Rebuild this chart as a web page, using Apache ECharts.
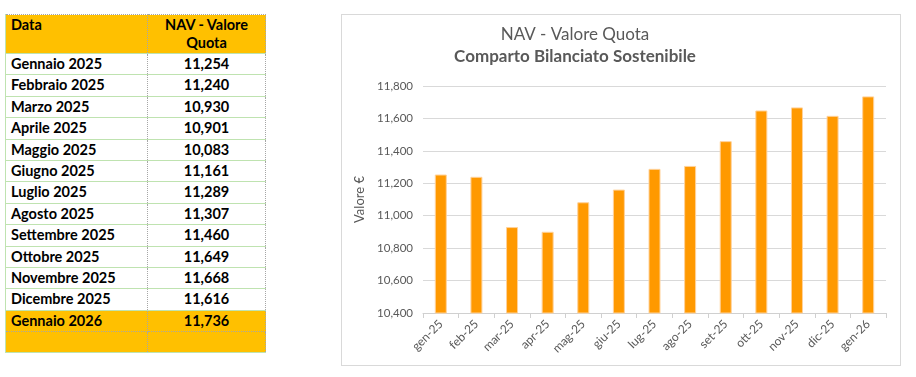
<!DOCTYPE html>
<html>
<head>
<meta charset="utf-8">
<title>NAV - Valore Quota</title>
<script src="https://cdn.jsdelivr.net/npm/echarts@6/dist/echarts.min.js"></script>
<style>
  body { margin: 0; background: #fff; width: 916px; height: 377px; position: relative; overflow: hidden; }
  #navTable {
    position: absolute; left: 5px; top: 14px; width: 260px;
    border-collapse: collapse; table-layout: fixed;
    font-family: Lato, "Liberation Sans", sans-serif; font-weight: bold; font-size: 14.5px; color: #000;
  }
  #navTable td { padding: 0; height: 20.4px; border-top: 1px solid #bfe3b0; border-bottom: 1px solid #bfe3b0; line-height: 19px; vertical-align: top; }
  #navTable td.c1 { padding-left: 5px; border-left: 1px solid #bfe3b0; border-right: 1px dotted #a6a6a6; }
  #navTable td.c2 { text-align: center; border-right: 1px dotted #a6a6a6; }
  #navTable tr.head td { background: #FFC000; height: 37px; line-height: 18px; padding-top: 1px; border-top: 1px dotted #a6a6a6; }
  #navTable tr.hl td { background: #FFC000; }
  #navTable tr.hl td { border-bottom: 1px dotted #a6a6a6; }
  #navTable tr.empty td { background: #FFC000; border-top: 1px dotted #a6a6a6; }
  #chartBox { position: absolute; left: 341px; top: 14px; width: 560px; height: 352px; box-sizing: border-box; border: 1px solid #d9d9d9; }
  #chart { width: 558px; height: 350px; }
</style>
</head>
<body>
<table id="navTable"><colgroup><col style="width:142px"><col style="width:118px"></colgroup><tbody></tbody></table>
<div id="chartBox"><div id="chart"></div></div>
<script>
// tabella a sinistra
var tableMonths = ['Gennaio 2025', 'Febbraio 2025', 'Marzo 2025', 'Aprile 2025', 'Maggio 2025', 'Giugno 2025',
    'Luglio 2025', 'Agosto 2025', 'Settembre 2025', 'Ottobre 2025', 'Novembre 2025', 'Dicembre 2025', 'Gennaio 2026'];
var tableNav = ['11,254', '11,240', '10,930', '10,901', '10,083', '11,161',
    '11,289', '11,307', '11,460', '11,649', '11,668', '11,616', '11,736'];

// grafico
var categories = ['gen-25', 'feb-25', 'mar-25', 'apr-25', 'mag-25', 'giu-25', 'lug-25',
    'ago-25', 'set-25', 'ott-25', 'nov-25', 'dic-25', 'gen-26'];
var navValues = [11254, 11240, 10930, 10901, 11083, 11161, 11289, 11307, 11460, 11649, 11668, 11616, 11736];
var yMin = 10400, yMax = 11800, yStep = 200;

function buildTable() {
    var html = '<tr class="head"><td class="c1">Data</td><td class="c2">NAV - Valore<br>Quota</td></tr>';
    tableMonths.forEach(function (m, i) {
        var cls = (i == tableMonths.length - 1) ? ' class="hl"' : '';
        html += '<tr' + cls + '><td class="c1">' + m + '</td><td class="c2">' + tableNav[i] + '</td></tr>';
    });
    html += '<tr class="empty"><td class="c1"></td><td class="c2"></td></tr>';
    document.querySelector('#navTable tbody').innerHTML = html;
}

function initChart() {
    var myChart = echarts.init(document.getElementById('chart'));
    var grey = '#595959';
    var font = 'Lato, "Open Sans", sans-serif';
    var option = {
        animation: false,
        title: [
            {
                text: 'NAV - Valore Quota',
                left: 228, top: 6, textAlign: 'center',
                textStyle: {fontSize: 17, fontWeight: 'normal', color: grey, fontFamily: font}
            },
            {
                text: 'Comparto Bilanciato Sostenibile',
                left: 228, top: 28, textAlign: 'center',
                textStyle: {fontSize: 17, fontWeight: 'bold', color: grey, fontFamily: font}
            }
        ],
        grid: {left: 81, right: 14, top: 71, bottom: 52, containLabel: false},
        xAxis: {
            type: 'category',
            data: categories,
            boundaryGap: true,
            axisLine: {lineStyle: {color: '#d0d0d0'}},
            axisTick: {show: true, length: 5, lineStyle: {color: '#d0d0d0'}},
            axisLabel: {rotate: 45, color: grey, fontSize: 12, fontFamily: font, margin: 9, interval: 0}
        },
        yAxis: {
            type: 'value',
            min: yMin, max: yMax, interval: yStep,
            name: 'Valore €',
            nameLocation: 'middle',
            nameGap: 48,
            nameTextStyle: {color: grey, fontSize: 13, fontFamily: font},
            axisLine: {show: false},
            axisTick: {show: false},
            axisLabel: {
                color: grey, fontSize: 11.5, fontFamily: font, margin: 10,
                formatter: function (v) { return v.toLocaleString('en-US'); }
            },
            splitLine: {lineStyle: {color: '#d9d9d9'}}
        },
        series: [{
            type: 'bar',
            data: navValues,
            barWidth: 12,
            itemStyle: {color: '#FF9900', borderColor: '#ffd29a', borderWidth: 1}
        }]
    };
    myChart.setOption(option);
}

buildTable();
initChart();
</script>
</body>
</html>
